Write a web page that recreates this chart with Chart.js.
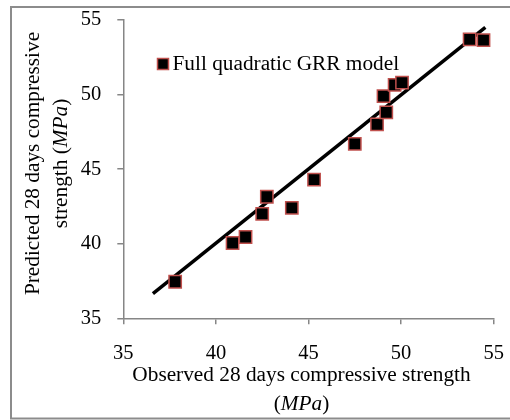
<!DOCTYPE html>
<html><head><meta charset="utf-8">
<script src="https://cdn.jsdelivr.net/npm/chart.js@4/dist/chart.umd.min.js"></script>
<style>html,body{margin:0;padding:0;background:#fff}#w{width:510px;height:420px;position:relative}</style>
</head><body><div id="w"><canvas id="c"></canvas></div>
<script>
// ---- data ----
const observed  = [37.8, 40.9, 41.6, 42.5, 42.75, 44.1, 45.3, 47.5, 48.7, 49.2, 49.05, 49.65, 50.05, 53.7, 54.45];
const predicted = [37.45, 40.05, 40.45, 42.0, 43.15, 42.4, 44.3, 46.7, 48.0, 48.8, 49.9, 50.65, 50.8, 53.7, 53.65];
const fitX = [36.6, 54.55];
const fitY = [36.65, 54.5];
const xTicks = [35, 40, 45, 50, 55];
const yTicks = [35, 40, 45, 50, 55];
const seriesLabel = 'Full quadratic GRR model';
const xTitleLines = [[['Observed 28 days compressive strength', false]], [['(', false], ['MPa', true], [')', false]]];
const yTitleLines = [[['Predicted 28 days compressive', false]], [['strength (', false], ['MPa', true], [')', false]]];

const FONT = '"Liberation Serif","Times New Roman",serif';
const FS = 21.3;
const TFS = 20.5;
const AXIS = '#868686';

function drawRich(ctx, segs, cx, by, size) {
  let total = 0; const ws = [];
  segs.forEach(([t, it]) => { ctx.font = (it ? 'italic ' : '') + size + 'px ' + FONT; const m = ctx.measureText(t).width; ws.push(m); total += m; });
  let x = cx - total / 2;
  ctx.textAlign = 'left'; ctx.textBaseline = 'alphabetic'; ctx.fillStyle = '#000';
  segs.forEach(([t, it], i) => { ctx.font = (it ? 'italic ' : '') + size + 'px ' + FONT; ctx.fillText(t, x, by); x += ws[i]; });
}

const decor = {
  id: 'decor',
  afterDraw(chart) {
    const ctx = chart.ctx;
    ctx.save();
    // outer frame
    ctx.strokeStyle = '#8c8c8c'; ctx.lineWidth = 2;
    ctx.strokeRect(11, 7, 520, 411.5);
    // x title
    drawRich(ctx, xTitleLines[0], 301.5, 380.5, FS);
    drawRich(ctx, xTitleLines[1], 301.5, 410, FS);
    // y title
    ctx.save(); ctx.translate(38.5, 163.5); ctx.rotate(-Math.PI / 2);
    drawRich(ctx, yTitleLines[0], 0, 0, FS);
    ctx.restore();
    ctx.save(); ctx.translate(67, 163.5); ctx.rotate(-Math.PI / 2);
    drawRich(ctx, yTitleLines[1], 0, 0, FS);
    ctx.restore();
    // legend
    const ds = chart.data.datasets[0];
    ctx.fillStyle = ds.backgroundColor; ctx.strokeStyle = ds.borderColor; ctx.lineWidth = 1.5;
    ctx.beginPath(); ctx.rect(157.5, 58.5, 11, 11); ctx.fill(); ctx.stroke();
    ctx.fillStyle = '#000'; ctx.font = FS + 'px ' + FONT; ctx.textAlign = 'left'; ctx.textBaseline = 'alphabetic';
    ctx.fillText(ds.label, 172.5, 70);
    ctx.restore();
  }
};

function zeroPad(s) { s.paddingTop = 0; s.paddingBottom = 0; s.paddingLeft = 0; s.paddingRight = 0; }

new Chart(document.getElementById('c'), {
  data: {
    datasets: [
      {
        type: 'scatter', label: seriesLabel, order: 1,
        data: observed.map((x, i) => ({ x, y: predicted[i] })),
        pointStyle: 'rect', pointRadius: 8.7, pointHoverRadius: 8.7,
        backgroundColor: '#000', borderColor: '#c0504d', borderWidth: 1.5
      },
      {
        type: 'line', label: 'fit', order: 2,
        data: fitX.map((x, i) => ({ x, y: fitY[i] })),
        borderColor: '#000', borderWidth: 3.5, pointRadius: 0, fill: false, tension: 0
      }
    ]
  },
  options: {
    responsive: true, maintainAspectRatio: false, animation: false,
    layout: { padding: { left: 0, top: 20, right: 16.3, bottom: 0 } },
    plugins: { legend: { display: false }, tooltip: { enabled: false } },
    scales: {
      x: {
        type: 'linear', min: 35, max: 55,
        afterBuildTicks: s => { s.ticks = xTicks.map(v => ({ value: v })); },
        afterFit: s => { s.height = 101.7; zeroPad(s); },
        grid: { display: true, drawOnChartArea: false, drawTicks: true, tickLength: 6, color: AXIS, lineWidth: 1.5 },
        border: { color: AXIS, width: 1.5 },
        ticks: { color: '#000', font: { family: FONT, size: TFS }, padding: 17, maxRotation: 0 }
      },
      y: {
        type: 'linear', min: 35, max: 55,
        afterBuildTicks: s => { s.ticks = yTicks.map(v => ({ value: v })); },
        afterFit: s => { s.width = 123.3; zeroPad(s); },
        grid: { display: true, drawOnChartArea: false, drawTicks: true, tickLength: 6, color: AXIS, lineWidth: 1.5 },
        border: { color: AXIS, width: 1.5 },
        ticks: { color: '#000', font: { family: FONT, size: TFS }, padding: 16 }
      }
    }
  },
  plugins: [decor]
});
</script></body></html>
